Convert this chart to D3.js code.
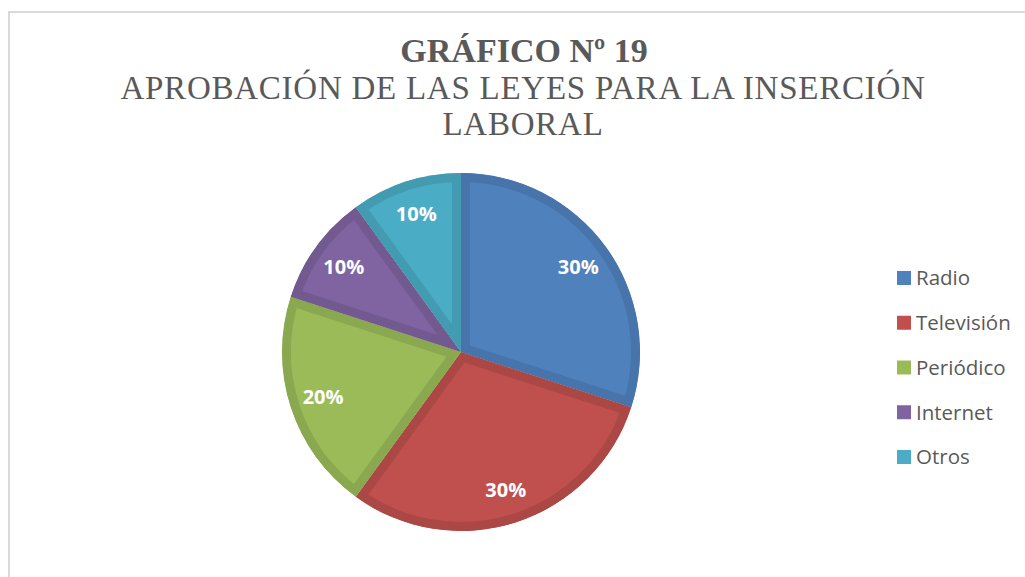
<!DOCTYPE html>
<html>
<head>
<meta charset="utf-8">
<script src="https://cdn.jsdelivr.net/npm/d3@7"></script>
<style>
  html, body { margin: 0; padding: 0; background: #fff; }
  svg { display: block; }
</style>
</head>
<body>
<div id="chart"></div>
<script>
var categories = ['Radio', 'Televisión', 'Periódico', 'Internet', 'Otros'];
var values = [30, 30, 20, 10, 10];
var labels = ['30%', '30%', '20%', '10%', '10%'];
var fills = ['#4f81bd', '#c0504d', '#9bbb59', '#8064a2', '#4bacc6'];
var edges = ['#4674ab', '#ab4845', '#8aa84f', '#725990', '#439bb2'];
var titleLines = ['APROBACIÓN DE LAS LEYES PARA LA INSERCIÓN', 'LABORAL'];

var width = 1025, height = 577;
var cx = 461, cy = 352, radius = 179;

var svg = d3.select('#chart').append('svg')
    .attr('width', width)
    .attr('height', height);

// chart frame (runs off the right and bottom edge)
svg.append('path')
    .attr('d', 'M9,' + (height + 5) + 'V12H' + (width + 5))
    .attr('fill', 'none')
    .attr('stroke', '#d9d9d9')
    .attr('stroke-width', 2);

// title
var title = svg.append('g').attr('class', 'title')
    .attr('font-family', '"Liberation Serif", "Times New Roman", serif')
    .attr('fill', '#595959')
    .attr('text-anchor', 'middle');
title.append('text')
    .attr('x', 524).attr('y', 62)
    .attr('font-size', 34).attr('font-weight', 'bold')
    .text('GRÁFICO Nº 19');
title.selectAll('.sub').data(titleLines).enter().append('text')
    .attr('class', 'sub')
    .attr('x', 523)
    .attr('y', function(d, i) { return 99 + i * 35.5; })
    .attr('font-size', 33)
    .attr('letter-spacing', 0.75)
    .text(function(d) { return d; });

// pie
var pie = d3.pie().sort(null).value(function(d) { return d; });
var arc = d3.arc().innerRadius(0).outerRadius(radius);
var labelArc = d3.arc().innerRadius(145).outerRadius(145);
var arcs = pie(values);

var pieLayer = svg.append('g').attr('transform', 'translate(' + cx + ',' + cy + ')');
var defs = svg.append('defs');
defs.selectAll('clipPath').data(arcs).enter().append('clipPath')
    .attr('id', function(d, i) { return 'slice-clip-' + i; })
    .append('path')
    .attr('d', arc);

var slices = pieLayer.selectAll('.slice').data(arcs).enter().append('g').attr('class', 'slice');
slices.append('path')
    .attr('d', arc)
    .attr('fill', function(d, i) { return fills[i]; })
    .attr('stroke', function(d, i) { return edges[i]; })
    .attr('stroke-width', 18)
    .attr('stroke-linejoin', 'miter')
    .attr('clip-path', function(d, i) { return 'url(#slice-clip-' + i + ')'; });

pieLayer.selectAll('.pct').data(arcs).enter().append('text')
    .attr('class', 'pct')
    .attr('transform', function(d) { return 'translate(' + labelArc.centroid(d) + ')'; })
    .attr('text-anchor', 'middle')
    .attr('dy', '0.36em')
    .attr('font-family', '"Open Sans", sans-serif')
    .attr('font-weight', 'bold')
    .attr('font-size', 20)
    .attr('fill', '#fff')
    .text(function(d, i) { return labels[i]; });

// legend
var legendY = d3.scalePoint().domain(categories).range([278, 457]);
var legend = svg.append('g').attr('class', 'legend');
var item = legend.selectAll('.item').data(categories).enter().append('g')
    .attr('class', 'item')
    .attr('transform', function(d) { return 'translate(897,' + legendY(d) + ')'; });
item.append('rect')
    .attr('x', 0).attr('y', -7)
    .attr('width', 14).attr('height', 14)
    .attr('fill', function(d, i) { return fills[i]; });
item.append('text')
    .attr('x', 19).attr('dy', '0.36em')
    .attr('font-family', '"Open Sans", sans-serif')
    .attr('font-size', 20.5)
    .attr('fill', '#595959')
    .text(function(d) { return d; });
</script>
</body>
</html>
